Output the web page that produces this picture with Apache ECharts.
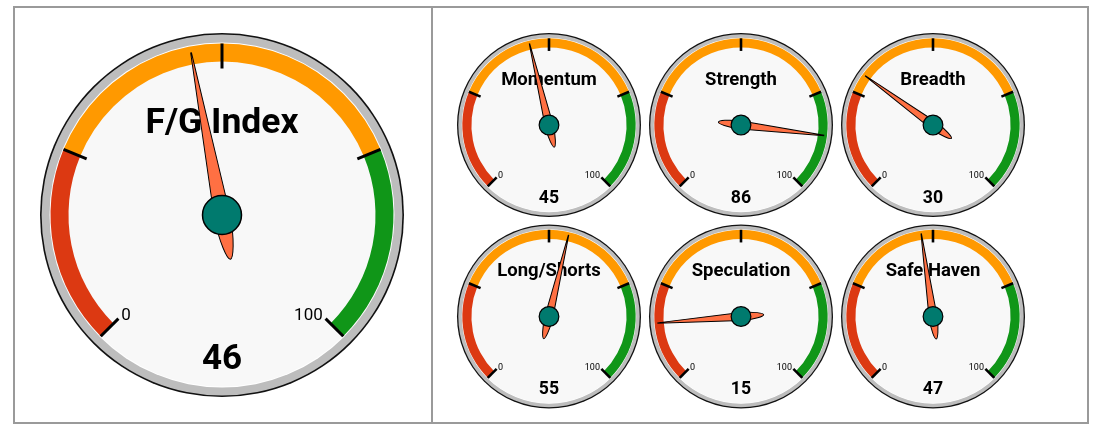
<!DOCTYPE html>
<html>
<head>
<meta charset="utf-8">
<script src="https://cdn.jsdelivr.net/npm/echarts@6/dist/echarts.min.js"></script>
<style>
  html, body { margin: 0; padding: 0; background: #ffffff; }
  #chart { width: 1100px; height: 431px; }
</style>
</head>
<body>
<div id="chart"></div>
<script>
// Gauge titles and their readings
const gaugeNames = ['F/G Index', 'Momentum', 'Strength', 'Breadth', 'Long/Shorts', 'Speculation', 'Safe Haven'];
const gaugeValues = [46, 45, 86, 30, 55, 15, 47];
// Scale: 0..100, band boundaries as fractions of the dial
const scaleMin = 0;
const scaleMax = 100;
const bandStops = [0.25, 0.75, 1];
const bandColors = ['#dc3912', '#ff9900', '#109618'];
const labelledTicks = [0, 100];

// Dial placement: [centerX, centerY, outerRadius, titleSize, titleOffset, valueOffset]
const dials = [
  [222, 215, 182, 35.5, -91, 145],
  [549, 125, 92, 18.5, -45, 73.5], [741, 125, 92, 18.5, -45, 73.5], [933, 125, 92, 18.5, -45, 73.5],
  [549, 316.5, 92, 18.5, -45, 73.5], [741, 316.5, 92, 18.5, -45, 73.5], [933, 316.5, 92, 18.5, -45, 73.5]
];

const NEEDLE = 'path://M7.6,0 L8.4,0 L16,165 C16,192 11,210 8,210 C5,210 0,192 0,165 Z';

function disk(cx, cy, r, color, z) {
  return {
    type: 'gauge', center: [cx, cy], radius: r, z: z, silent: true,
    startAngle: 90, endAngle: -270, min: 0, max: 1,
    axisLine: { lineStyle: { width: r, color: [[1, color]] } },
    axisTick: { show: false }, splitLine: { show: false }, axisLabel: { show: false },
    pointer: { show: false }, anchor: { show: false },
    title: { show: false }, detail: { show: false },
    data: [{ value: 0 }]
  };
}

const series = [];
dials.forEach(([cx, cy, R, titleSize, titleOff, valueOff], i) => {
  const s = R / 182;
  const rim = Math.max(1.3, 1.6 * s);
  const bandR = R - 10.5 * s;
  series.push(disk(cx, cy, R, '#111111', 1));
  series.push(disk(cx, cy, R - rim, '#bdbdbd', 2));
  series.push(disk(cx, cy, R - 9.5 * s, '#ffffff', 3));
  series.push(disk(cx, cy, R - 10.5 * s, '#f8f8f8', 4));

  const common = {
    type: 'gauge', center: [cx, cy], radius: bandR, silent: true,
    startAngle: 225, endAngle: -45, min: scaleMin, max: scaleMax, splitNumber: 4
  };

  // Coloured band, ticks, end labels, caption and reading
  series.push(Object.assign({}, common, {
    z: 5,
    axisLine: {
      lineStyle: {
        width: 18 * s,
        color: bandStops.map((p, k) => [p, bandColors[k]])
      }
    },
    axisTick: { show: false },
    splitLine: { show: true, length: 25 * s, distance: -18 * s, lineStyle: { color: '#000', width: Math.max(2.6, 3 * s) } },
    axisLabel: {
      show: true, distance: 22 * s, color: '#000', fontFamily: 'Roboto', fontSize: Math.max(9, 17 * s),
      formatter: v => labelledTicks.indexOf(v) >= 0 ? String(v) : ''
    },
    pointer: { show: false }, anchor: { show: false },
    title: {
      show: true, offsetCenter: [0, titleOff], color: '#000',
      fontFamily: 'Roboto', fontWeight: 'bold', fontSize: titleSize
    },
    detail: {
      show: true, offsetCenter: [0, valueOff], color: '#000',
      fontFamily: 'Roboto', fontWeight: 'bold', fontSize: 35 * s,
      formatter: '{value}'
    },
    data: [{ value: gaugeValues[i], name: gaugeNames[i] }]
  }));

  // Needle and hub
  series.push(Object.assign({}, common, {
    z: 6,
    axisLine: { show: false }, axisTick: { show: false }, splitLine: { show: false }, axisLabel: { show: false },
    pointer: {
      show: true, icon: NEEDLE, length: 210 * s, width: 16 * s, offsetCenter: [0, 45 * s],
      itemStyle: { color: '#ff7043', borderColor: '#000', borderWidth: 1 }
    },
    anchor: {
      show: true, showAbove: true, size: 39 * s,
      itemStyle: { color: '#007a6e', borderColor: '#000', borderWidth: Math.max(1.2, 1.5 * s) }
    },
    title: { show: false }, detail: { show: false },
    data: [{ value: gaugeValues[i] }]
  }));
});

const chart = echarts.init(document.getElementById('chart'), null, { renderer: 'canvas' });
chart.setOption({
  animation: false,
  backgroundColor: '#ffffff',
  graphic: [
    { type: 'rect', shape: { x: 14, y: 7, width: 418, height: 416 }, style: { fill: 'none', stroke: '#9a9a9a', lineWidth: 2 }, z: 0 },
    { type: 'rect', shape: { x: 432, y: 7, width: 656, height: 416 }, style: { fill: 'none', stroke: '#9a9a9a', lineWidth: 2 }, z: 0 }
  ],
  series: series
});
</script>
</body>
</html>
